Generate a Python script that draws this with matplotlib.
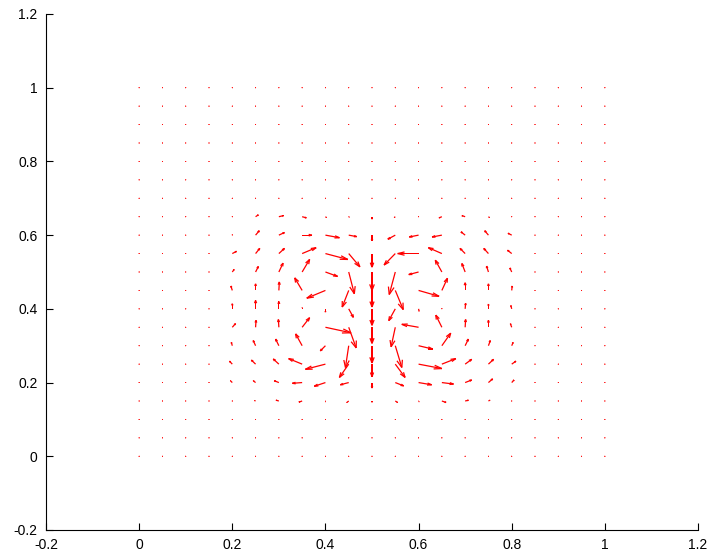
import matplotlib
matplotlib.use("Agg")
import matplotlib.pyplot as plt
import numpy as np

plt.rcParams['font.family'] = ['Liberation Sans', 'DejaVu Sans']
plt.rcParams['axes.unicode_minus'] = False

# grid of the field: 0:0.05:1 in both directions
x_grid = np.linspace(0, 1, 21)
y_grid = np.linspace(0, 1, 21)

# non-zero part of the field
# columns: x = 0.2 .. 0.8, rows: y = 0.65 (top) .. 0.15 (bottom)
core_x = [0.2, 0.25, 0.3, 0.35, 0.4, 0.45, 0.5, 0.55, 0.6, 0.65, 0.7, 0.75, 0.8]
core_y = [0.65, 0.6, 0.55, 0.5, 0.45, 0.4, 0.35, 0.3, 0.25, 0.2, 0.15]

u_core = [
    [0.000, 0.006, 0.010, 0.009, 0.002, 0.001, 0.000, -0.002, 0.000, -0.006, -0.007, 0.002, 0.000],
    [0.000, 0.008, 0.012, 0.021, 0.030, 0.017, 0.000, -0.016, -0.020, -0.021, -0.009, -0.008, -0.008],
    [0.009, 0.009, 0.012, 0.030, 0.048, 0.024, 0.000, -0.024, -0.045, -0.029, -0.011, -0.010, -0.009],
    [0.004, 0.006, 0.009, 0.016, 0.026, 0.012, 0.000, -0.013, -0.021, -0.014, -0.007, -0.004, -0.004],
    [-0.003, 0.000, 0.001, -0.016, -0.040, -0.014, 0.000, 0.017, 0.044, 0.012, 0.000, 0.000, 0.001],
    [0.000, 0.000, 0.000, 0.000, 0.000, 0.010, 0.000, -0.014, 0.001, 0.000, 0.001, 0.000, -0.002],
    [0.007, 0.001, -0.001, 0.016, 0.055, 0.016, 0.000, -0.009, -0.036, -0.013, 0.001, 0.000, -0.003],
    [-0.002, -0.005, -0.007, -0.014, -0.011, -0.007, 0.000, 0.014, 0.030, 0.019, 0.007, 0.004, 0.003],
    [-0.006, -0.009, -0.012, -0.029, -0.043, -0.020, 0.000, 0.021, 0.050, 0.030, 0.014, 0.011, 0.009],
    [-0.004, -0.005, -0.010, -0.021, -0.024, -0.018, 0.000, 0.018, 0.028, 0.025, 0.014, 0.009, 0.005],
    [0.000, -0.002, -0.006, -0.007, 0.000, -0.004, 0.000, 0.005, 0.001, 0.009, 0.007, 0.003, 0.000],
]
v_core = [
    [0.000, 0.005, 0.003, -0.003, -0.002, -0.001, -0.006, -0.002, 0.000, -0.003, 0.003, -0.002, 0.000],
    [0.001, 0.012, 0.007, 0.000, -0.007, -0.004, -0.015, -0.011, -0.005, -0.005, 0.009, 0.012, 0.005],
    [0.006, 0.014, 0.014, 0.016, -0.016, -0.036, -0.037, -0.031, 0.000, 0.016, 0.014, 0.014, 0.009],
    [0.007, 0.015, 0.024, 0.034, -0.012, -0.059, -0.050, -0.061, -0.007, 0.032, 0.023, 0.016, 0.011],
    [0.012, 0.018, 0.023, 0.034, -0.021, -0.045, -0.045, -0.052, -0.016, 0.033, 0.021, 0.018, 0.012],
    [0.014, 0.023, 0.020, 0.003, -0.009, -0.023, -0.045, -0.032, -0.006, 0.001, 0.015, 0.013, 0.009],
    [0.010, 0.019, 0.021, 0.026, -0.015, -0.056, -0.044, -0.053, 0.008, 0.033, 0.021, 0.019, 0.010],
    [0.009, 0.014, 0.018, 0.032, -0.014, -0.059, -0.047, -0.059, -0.009, 0.034, 0.018, 0.014, 0.009],
    [0.008, 0.011, 0.014, 0.015, -0.014, -0.036, -0.034, -0.036, -0.012, 0.015, 0.013, 0.013, 0.008],
    [0.005, 0.005, 0.005, -0.002, -0.010, -0.006, -0.015, -0.009, -0.006, -0.004, 0.007, 0.010, 0.007],
    [0.000, 0.001, 0.002, -0.003, -0.002, -0.004, -0.003, -0.004, -0.002, -0.004, 0.002, 0.002, 0.000],
]

tick_vals = [-0.2, 0, 0.2, 0.4, 0.6, 0.8, 1, 1.2]
tick_labels = ['-0.2', '0', '0.2', '0.4', '0.6', '0.8', '1', '1.2']

# full field, zero outside the core block
X, Y = np.meshgrid(x_grid, y_grid)
U = np.zeros_like(X)
V = np.zeros_like(X)
for i, yv in enumerate(core_y):
    r = int(round(yv / 0.05))
    for j, xv in enumerate(core_x):
        c = int(round(xv / 0.05))
        U[r, c] = u_core[i][j]
        V[r, c] = v_core[i][j]

# matlab style open arrow heads
alpha = 0.33
beta = 0.3
hu1 = -alpha * (U + beta * V)
hv1 = -alpha * (V - beta * U)
hu2 = -alpha * (U - beta * V)
hv2 = -alpha * (V + beta * U)

fig = plt.figure(figsize=(7.1, 5.53), dpi=100)
ax = fig.add_axes([0.0648, 0.0416, 0.9183, 0.9331])

kw = dict(angles='xy', scale_units='xy', scale=1, units='dots', width=1.25,
          headwidth=0, headlength=0, headaxislength=0, color='red', minlength=0.8)
ax.quiver(X, Y, U, V, **kw)
ax.quiver(X + U, Y + V, hu1, hv1, **kw)
ax.quiver(X + U, Y + V, hu2, hv2, **kw)

ax.set_xlim(-0.2, 1.2)
ax.set_ylim(-0.2, 1.2)
ax.set_xticks(tick_vals)
ax.set_xticklabels(tick_labels)
ax.set_yticks(tick_vals)
ax.set_yticklabels(tick_labels)
ax.spines['top'].set_visible(False)
ax.spines['right'].set_visible(False)
ax.tick_params(direction='in', length=5, width=0.8, labelsize=10, pad=6)

fig.savefig('out.png', dpi=100)
